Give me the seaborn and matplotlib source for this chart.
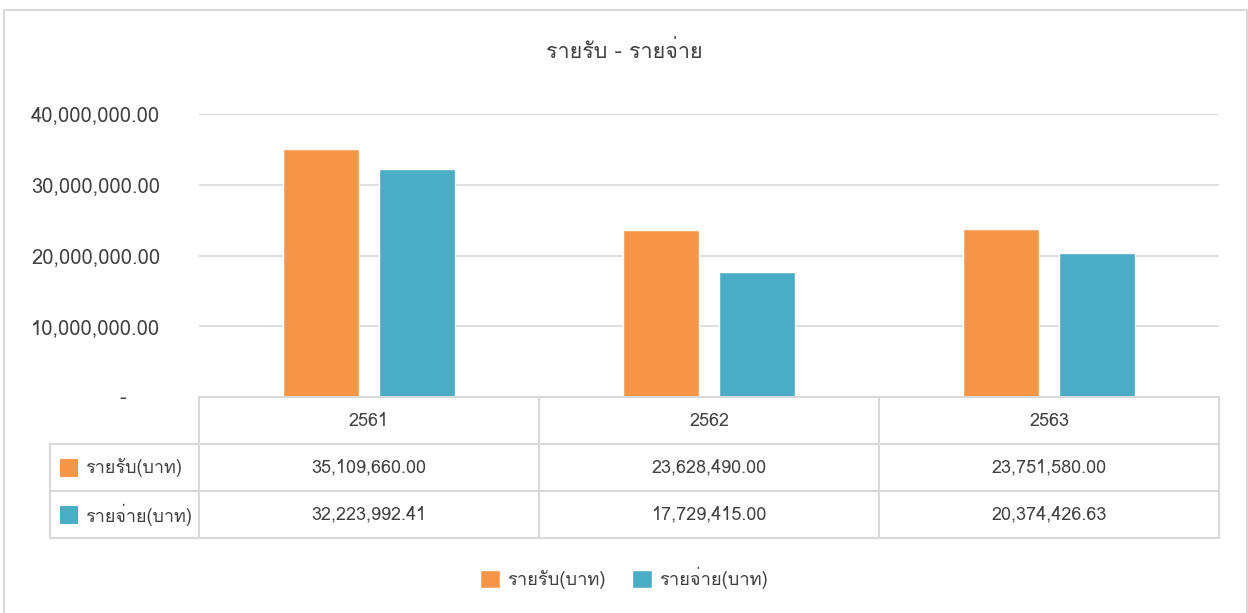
import matplotlib
matplotlib.use("Agg")
import matplotlib.pyplot as plt
import matplotlib.font_manager as fm
from matplotlib.patches import Rectangle
from matplotlib.ticker import FuncFormatter
import seaborn as sns
import pandas as pd

# data
years = ["2561", "2562", "2563"]
income = [35109660.00, 23628490.00, 23751580.00]
expense = [32223992.41, 17729415.00, 20374426.63]
series_names = ["รายรับ(บาท)", "รายจ่าย(บาท)"]
title = "รายรับ - รายจ่าย"

orange = "#F79646"
teal = "#4BACC6"
text_col = "#404040"
line_col = "#D9D9D9"

sns.set_theme(style="white")

# look for an installed font that has Thai glyphs
thai_font = None
try:
    from fontTools.ttLib import TTFont
    seen = set()
    for f in fm.fontManager.ttflist:
        if f.name in seen:
            continue
        seen.add(f.name)
        try:
            tt = TTFont(f.fname, fontNumber=0, lazy=True)
            if 0x0E23 in tt.getBestCmap():
                thai_font = f.name
                break
        except Exception:
            pass
except Exception:
    pass

families = ["DejaVu Sans"]
if thai_font:
    families = [thai_font, "DejaVu Sans"]
plt.rcParams["font.family"] = families

df = pd.DataFrame({
    "year": years * 2,
    "value": income + expense,
    "series": [series_names[0]] * 3 + [series_names[1]] * 3,
})

fig = plt.figure(figsize=(12.48, 6.13), dpi=100)
W, H = 1248, 613
ax = fig.add_axes([199 / W, (H - 397) / H, 1020 / W, 283 / H])

sns.barplot(data=df, x="year", y="value", hue="series",
            palette=[orange, teal], width=0.57, gap=0.216,
            saturation=1, ax=ax)

ax.set_ylim(0, 40000000)
ax.set_yticks([0, 10000000, 20000000, 30000000, 40000000])
ax.yaxis.set_major_formatter(FuncFormatter(
    lambda v, p: "-     " if v == 0 else f"{v:,.2f}"))
ax.tick_params(axis="y", length=0, pad=28, labelsize=14.5, labelcolor=text_col)
ax.set_xticklabels([])
ax.tick_params(axis="x", length=0)
ax.set_xlabel("")
ax.set_ylabel("")
ax.grid(axis="y", color=line_col, lw=1.2)
ax.set_axisbelow(True)
for s in ["left", "right", "top"]:
    ax.spines[s].set_visible(False)
ax.spines["bottom"].set_color(line_col)
ax.spines["bottom"].set_linewidth(1.5)

handles, labels = ax.get_legend_handles_labels()
ax.get_legend().remove()

# data table under the plot
cell_text = [[""] + years,
             [series_names[0]] + [f"{v:,.2f}" for v in income],
             [series_names[1]] + [f"{v:,.2f}" for v in expense]]
total_w = 1169
tbl = ax.table(cellText=cell_text,
               colWidths=[149 / total_w] + [340 / total_w] * 3,
               cellLoc="center",
               bbox=[(50 - 199) / 1020, (397 - 538) / 283, total_w / 1020, 141 / 283])
tbl.auto_set_font_size(False)
tbl.set_fontsize(13)
for (r, c), cell in tbl.get_celld().items():
    cell.set_edgecolor(line_col)
    cell.set_linewidth(1.5)
    cell.get_text().set_color(text_col)
    if c == 0:
        cell.get_text().set_ha("left")
        cell.PAD = 0.235
        cell._loc = "left"
    if r == 0 and c == 0:
        cell.visible_edges = "BR"

# colour keys in the row labels
for i, col in enumerate([orange, teal]):
    y0 = (397 - (477 + 47 * i)) / 283
    ax.add_patch(Rectangle(((60 - 199) / 1020, y0), 18 / 1020, 18 / 283,
                           transform=ax.transAxes, facecolor=col,
                           edgecolor="none", clip_on=False))

fig.text(0.5, (H - 52) / H, title, ha="center", va="center",
         fontsize=15.5, color=text_col)

fig.legend(handles, labels, loc="center", bbox_to_anchor=(0.5, (H - 578) / H),
           ncol=2, frameon=False, fontsize=13.2, labelcolor=text_col,
           handlelength=1.1, handleheight=1.1, handletextpad=0.4,
           columnspacing=1.4)

# outer chart border
for xs, ys in [([4, 4], [0, H - 10]), ([4, W - 1], [H - 10, H - 10]),
               ([W - 1, W - 1], [0, H - 10])]:
    fig.add_artist(plt.Line2D([x / W for x in xs], [y / H for y in ys],
                              color=line_col, lw=1.5))

fig.savefig("out.png", dpi=100, facecolor="white")
